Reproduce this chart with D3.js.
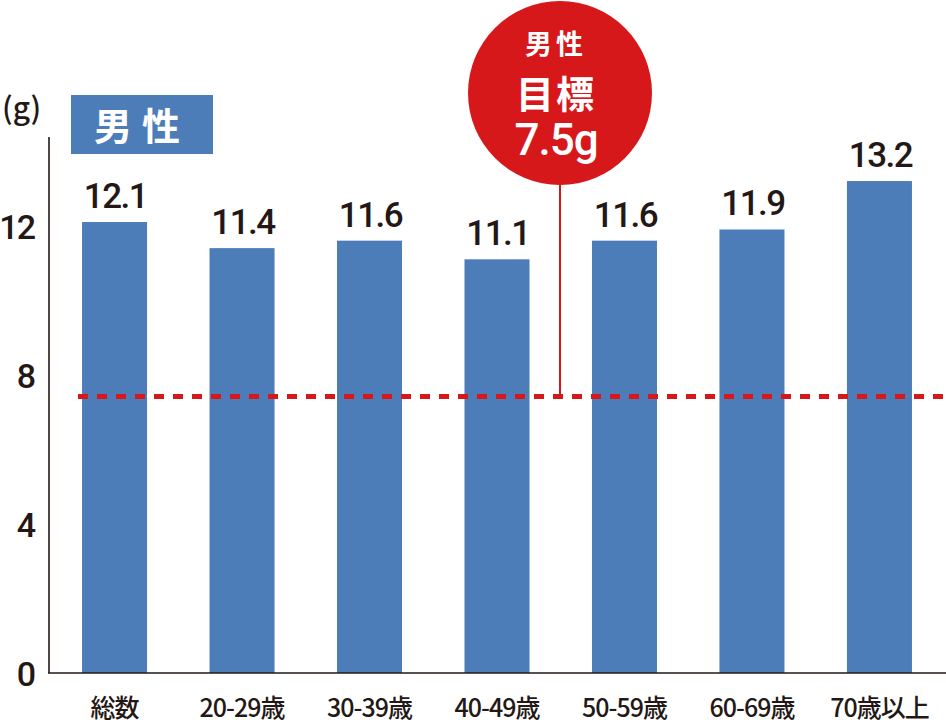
<!DOCTYPE html>
<html><head><meta charset="utf-8">
<script src="https://cdn.jsdelivr.net/npm/d3@7/dist/d3.min.js"></script>
<style>
html,body{margin:0;padding:0;background:#fff;}
svg{display:block;}
</style></head>
<body>
<svg id="chart" width="946" height="724"></svg>
<script>
const categories = ["総数","20-29歳","30-39歳","40-49歳","50-59歳","60-69歳","70歳以上"];
const values = [12.1, 11.4, 11.6, 11.1, 11.6, 11.9, 13.2];
const yTicks = [0, 4, 8, 12];
const target = 7.5;
const unitLabel = "(g)";
const seriesLabel = "男性";
const targetLines = ["男性", "目標", "7.5g"];

const svg = d3.select("#chart");
const W = 946, H = 724;
const baseY = 673, axisX = 49;
const numFont = "Roboto, 'Liberation Sans', sans-serif";
const jpFont = "'Noto Sans CJK JP', 'Noto Sans', sans-serif";
const ink = "#231815";
const barColor = "#4d7db8";
const red = "#d7181b";

const x = d3.scaleBand().domain(categories).range([48, 946]).paddingInner(0.49).paddingOuter(0.267);
const y = d3.scaleLinear().domain([0, 14.4]).range([baseY, baseY - 14.4 * 37.27]);

// bars
svg.append("g").selectAll("rect").data(values).join("rect")
  .attr("x", (d, i) => x(categories[i]))
  .attr("y", d => y(d))
  .attr("width", x.bandwidth())
  .attr("height", d => baseY - y(d))
  .attr("fill", barColor);

// value labels
svg.append("g").selectAll("text").data(values).join("text")
  .attr("x", (d, i) => x(categories[i]) + x.bandwidth() / 2 + 1)
  .attr("y", d => y(d) - 14)
  .attr("text-anchor", "middle")
  .attr("font-family", numFont)
  .attr("font-size", 35)
  .attr("font-weight", 500)
  .attr("letter-spacing", -1.5)
  .attr("fill", ink)
  .text(d => d.toFixed(1));

// axes
const yAxis = d3.axisLeft(y).tickValues(yTicks).tickSize(0).tickPadding(15).tickFormat(d3.format("d"));
const gy = svg.append("g").attr("transform", `translate(${axisX},0)`).call(yAxis);
gy.select(".domain").remove();
gy.selectAll("text")
  .attr("font-family", numFont).attr("font-size", 34).attr("font-weight", 500).attr("letter-spacing", -2)
  .attr("fill", ink).attr("dy", "0.38em");
svg.append("line").attr("x1", axisX).attr("x2", axisX).attr("y1", y(14.38)).attr("y2", baseY)
  .attr("stroke", ink).attr("stroke-width", 1.6);

const xAxis = d3.axisBottom(x).tickSize(0).tickPadding(0);
const gx = svg.append("g").attr("transform", `translate(0,${baseY})`).call(xAxis);
gx.select(".domain").remove();
gx.selectAll("text")
  .attr("font-family", jpFont).attr("font-size", 25).attr("font-weight", 500)
  .attr("fill", ink).attr("y", 44).attr("dy", 0).attr("letter-spacing", -1);
svg.append("line").attr("x1", 48).attr("x2", W).attr("y1", baseY).attr("y2", baseY)
  .attr("stroke", ink).attr("stroke-width", 1.6);

// target dashed line
svg.append("line").attr("x1", 78).attr("x2", 946).attr("y1", y(target) + 3).attr("y2", y(target) + 3)
  .attr("stroke", red).attr("stroke-width", 5).attr("stroke-dasharray", "10 9");

// callout
const cx = 560, cy = 93, r = 92;
svg.append("line").attr("x1", cx).attr("x2", cx).attr("y1", cy + r - 2).attr("y2", y(target) + 3)
  .attr("stroke", red).attr("stroke-width", 2);
svg.append("circle").attr("cx", cx).attr("cy", cy).attr("r", r).attr("fill", red);
const calloutSizes = [27, 38, 44];
const calloutY = [54, 108, 155];
svg.append("g").selectAll("text").data(targetLines).join("text")
  .attr("x", cx - 4).attr("y", (d, i) => calloutY[i])
  .attr("text-anchor", "middle")
  .attr("font-family", (d, i) => i === 2 ? numFont : jpFont)
  .attr("font-weight", (d, i) => i === 2 ? 500 : 700)
  .attr("font-size", (d, i) => calloutSizes[i])
  .attr("letter-spacing", (d, i) => i === 0 ? 4 : (i === 1 ? 2 : -1))
  .attr("fill", "#fff")
  .text(d => d);

// unit label
svg.append("text").attr("x", 2).attr("y", 119)
  .attr("font-family", jpFont).attr("font-size", 30).attr("font-weight", 500)
  .attr("fill", ink).text(unitLabel);

// series label box
svg.append("rect").attr("x", 71).attr("y", 95).attr("width", 142).attr("height", 59).attr("fill", barColor);
svg.append("text").attr("x", 142).attr("y", 140).attr("text-anchor", "middle")
  .attr("font-family", jpFont).attr("font-weight", 700).attr("font-size", 38)
  .attr("letter-spacing", 10).attr("fill", "#fff").text(seriesLabel);
</script>
</body></html>
